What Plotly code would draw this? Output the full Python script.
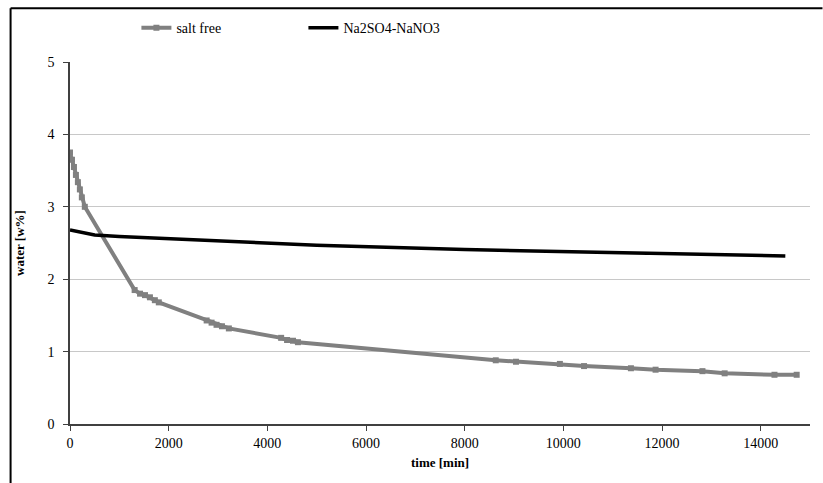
import plotly.graph_objects as go

# Water content over time, salt-free sample
salt_free_time = [0, 40, 80, 120, 160, 200, 240, 300,
                  1310, 1420, 1520, 1620, 1720, 1800,
                  2770, 2870, 2970, 3080, 3220,
                  4280, 4400, 4520, 4620,
                  8630, 9040, 9930, 10420, 11370, 11870, 12820, 13270, 14280, 14730]
salt_free_water = [3.75, 3.65, 3.55, 3.44, 3.34, 3.24, 3.13, 3.0,
                   1.85, 1.80, 1.78, 1.75, 1.71, 1.68,
                   1.43, 1.40, 1.37, 1.35, 1.32,
                   1.19, 1.16, 1.15, 1.13,
                   0.88, 0.86, 0.83, 0.80, 0.77, 0.75, 0.73, 0.70, 0.68, 0.68]

# Water content over time, Na2SO4-NaNO3 sample
salt_time = [0, 250, 500, 1000, 2000, 3000, 3500, 5000, 8000, 10000, 12000, 14500]
salt_water = [2.68, 2.65, 2.61, 2.59, 2.56, 2.54, 2.52, 2.47, 2.41, 2.38, 2.35, 2.32]

x_ticks = [0, 2000, 4000, 6000, 8000, 10000, 12000, 14000]
x_tick_labels = [str(v) for v in x_ticks]
y_ticks = [0, 1, 2, 3, 4, 5]
y_tick_labels = [str(v) for v in y_ticks]

FONT = "Liberation Serif"

fig = go.Figure()
fig.add_trace(go.Scatter(
    x=salt_free_time, y=salt_free_water, name="salt free",
    mode="lines+markers",
    line=dict(color="#808080", width=4),
    marker=dict(symbol="square", size=6, color="#808080"),
))
fig.add_trace(go.Scatter(
    x=salt_time, y=salt_water, name="Na2SO4-NaNO3",
    mode="lines",
    line=dict(color="#000000", width=3.5),
))

# Outer frame (left and top edges)
fx = (10 - 69.5) / 741
fy = (424.3 - 8) / 362.5
fx_end = (823 - 69.5) / 741
fig.add_shape(type="line", xref="paper", yref="paper",
              x0=fx, x1=fx, y0=-0.2, y1=fy,
              line=dict(color="black", width=2))
fig.add_shape(type="line", xref="paper", yref="paper",
              x0=fx, x1=fx_end, y0=fy, y1=fy,
              line=dict(color="black", width=2))

fig.update_layout(
    width=823, height=483,
    margin=dict(l=69.5, r=12.5, t=62, b=58.7),
    paper_bgcolor="white", plot_bgcolor="white",
    font=dict(family=FONT, size=14, color="black"),
    showlegend=True,
    legend=dict(
        orientation="h", x=(136 - 69.5) / 741, xanchor="left",
        y=(424.3 - 12) / 362.5, yanchor="top",
        entrywidth=122, entrywidthmode="pixels",
        font=dict(family=FONT, size=14),
        bgcolor="rgba(0,0,0,0)",
    ),
    xaxis=dict(
        range=[0, 15000], tickvals=x_ticks, ticktext=x_tick_labels,
        showgrid=False, zeroline=False,
        showline=True, linecolor="#404040", linewidth=1.5,
        ticks="outside", ticklen=5, tickcolor="#404040",
        tickfont=dict(family=FONT, size=14),
        title=dict(text="<b>time [min]</b>", font=dict(family=FONT, size=13), standoff=8),
    ),
    yaxis=dict(
        range=[0, 5], tickvals=y_ticks, ticktext=y_tick_labels,
        showgrid=True, gridcolor="#c8c8c8", gridwidth=1,
        zeroline=False,
        showline=True, linecolor="#404040", linewidth=1.5,
        ticks="outside", ticklen=5, tickcolor="#404040",
        ticklabelstandoff=6,
        tickfont=dict(family=FONT, size=14),
        title=dict(text="<b>water [w%]</b>", font=dict(family=FONT, size=13), standoff=20),
    ),
)

fig.write_html("out.html")
